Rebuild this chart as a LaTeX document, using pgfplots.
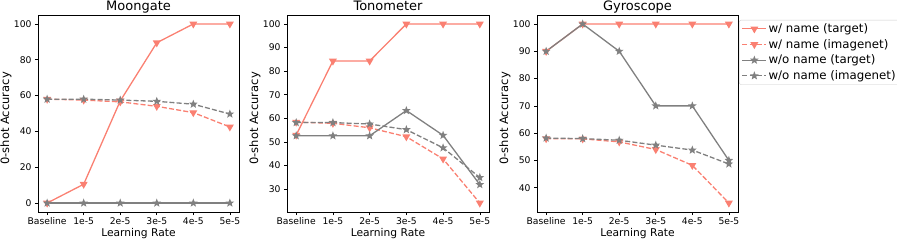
\documentclass[border=0pt]{standalone}
\usepackage{pgfplots}
\pgfplotsset{compat=1.18}
\usepackage{fontspec}
\setmainfont{DejaVu Sans}
\definecolor{salmon}{HTML}{FA8072}
\definecolor{mgray}{HTML}{808080}
\pgfdeclareplotmark{fstar}{%
  \pgfpathmoveto{\pgfpointpolar{90}{\pgfplotmarksize}}%
  \pgfpathlineto{\pgfpointpolar{126}{0.42\pgfplotmarksize}}%
  \pgfpathlineto{\pgfpointpolar{162}{\pgfplotmarksize}}%
  \pgfpathlineto{\pgfpointpolar{198}{0.42\pgfplotmarksize}}%
  \pgfpathlineto{\pgfpointpolar{234}{\pgfplotmarksize}}%
  \pgfpathlineto{\pgfpointpolar{270}{0.42\pgfplotmarksize}}%
  \pgfpathlineto{\pgfpointpolar{306}{\pgfplotmarksize}}%
  \pgfpathlineto{\pgfpointpolar{342}{0.42\pgfplotmarksize}}%
  \pgfpathlineto{\pgfpointpolar{18}{\pgfplotmarksize}}%
  \pgfpathlineto{\pgfpointpolar{54}{0.42\pgfplotmarksize}}%
  \pgfpathclose
  \pgfusepathqfillstroke
}
\newcommand{\lf}{\fontsize{11.8bp}{13bp}\selectfont}
\pgfplotsset{
  base/.style={
    scale only axis, width=201bp, height=197bp,
    xmin=-0.25, xmax=5.25,
    xtick={0,1,2,3,4,5}, xticklabels={Baseline,1e-5,2e-5,3e-5,4e-5,5e-5},
    tick align=outside, major tick length=3bp,
    xtick pos=bottom, ytick pos=left,
    tick style={black, line width=0.6bp},
    axis line style={line width=0.6bp},
    /pgf/number format/assume math mode=true,
    tick label style={font=\fontsize{9.2bp}{10bp}\selectfont},
    xlabel style={font=\fontsize{10.7bp}{12bp}\selectfont, yshift=3bp},
    every axis y label/.style={at={(axis description cs:-0.159,0.475)}, rotate=90, anchor=center,
      font=\fontsize{11.5bp}{13bp}\selectfont},
    every axis title/.style={at={(0.5,1)}, anchor=base, yshift=4bp, font=\fontsize{13bp}{14bp}\selectfont},
    xlabel={Learning Rate}, ylabel={0-shot Accuracy},
    xticklabel style={yshift=1bp},
    every axis plot/.append style={line width=1.3bp},
  },
  wt/.style={salmon, mark=triangle*, mark size=3.3bp, mark options={rotate=180, solid}},
  wi/.style={salmon, dash pattern=on 5bp off 2.2bp, mark=triangle*, mark size=3.3bp, mark options={rotate=180, solid}},
  ot/.style={mgray, mark=fstar, mark size=2.7bp, mark options={solid}},
  oi/.style={mgray, dash pattern=on 5bp off 2.2bp, mark=fstar, mark size=2.7bp, mark options={solid}},
}
\begin{document}
\begin{tikzpicture}
\path[use as bounding box] (0,0) rectangle (897bp,242bp);
% Moongate
\begin{axis}[base, at={(38bp,30bp)}, anchor=south west, title={Moongate},
  ymin=-5, ymax=105, ytick={0,20,40,60,80,100}]
\addplot[wt] coordinates {(0,0) (1,10.5) (2,57) (3,89.5) (4,100) (5,100)};
\addplot[wi] coordinates {(0,58) (1,57.5) (2,56.5) (3,54) (4,50.5) (5,42.5)};
\addplot[ot] coordinates {(0,0) (1,0) (2,0) (3,0) (4,0) (5,0)};
\addplot[oi] coordinates {(0,58) (1,58) (2,57.5) (3,56.8) (4,55.2) (5,49.7)};
\end{axis}
% Tonometer
\begin{axis}[base, at={(287bp,30bp)}, anchor=south west, width=202bp, title={Tonometer},
  ymin=20.3, ymax=103.8, ytick={20,30,40,50,60,70,80,90,100}]
\addplot[wt] coordinates {(0,52.9) (1,84.3) (2,84.3) (3,100) (4,100) (5,100)};
\addplot[wi] coordinates {(0,58.4) (1,57.9) (2,56.0) (3,52.2) (4,42.8) (5,24.1)};
\addplot[ot] coordinates {(0,52.6) (1,52.6) (2,52.6) (3,63.3) (4,52.8) (5,31.9)};
\addplot[oi] coordinates {(0,58.2) (1,58.2) (2,57.6) (3,55.2) (4,47.5) (5,34.9)};
\end{axis}
% Gyroscope
\begin{axis}[base, at={(537bp,30bp)}, anchor=south west, title={Gyroscope},
  ymin=31.1, ymax=103.3, ytick={40,50,60,70,80,90,100},
  legend style={at={(1.005,0.975)}, anchor=north west,
    draw=black!20, rounded corners=2bp, font=\lf,
    row sep=2.2bp, inner xsep=2.5bp, inner ysep=2bp,
    nodes={inner sep=1.5bp},
    /tikz/every odd column/.style={column sep=0bp}},
  legend cell align=left,
  legend image code/.code={\draw[mark repeat=2,mark phase=2] plot coordinates {(0bp,0bp) (12bp,0bp) (24bp,0bp)};}]
\addplot[wt] coordinates {(0,90) (1,100) (2,100) (3,100) (4,100) (5,100)};
\addplot[wi] coordinates {(0,58.0) (1,57.9) (2,56.8) (3,54.0) (4,48.2) (5,34.4)};
\addplot[ot] coordinates {(0,90) (1,100) (2,90) (3,70) (4,70) (5,50.0)};
\addplot[oi] coordinates {(0,58.2) (1,58.0) (2,57.4) (3,55.6) (4,53.8) (5,48.7)};
\legend{{\lf w/ name (target)}, {\lf w/ name (imagenet)}, {\lf w/o name (target)}, {\lf w/o name (imagenet)}}
\end{axis}
\end{tikzpicture}
\end{document}
